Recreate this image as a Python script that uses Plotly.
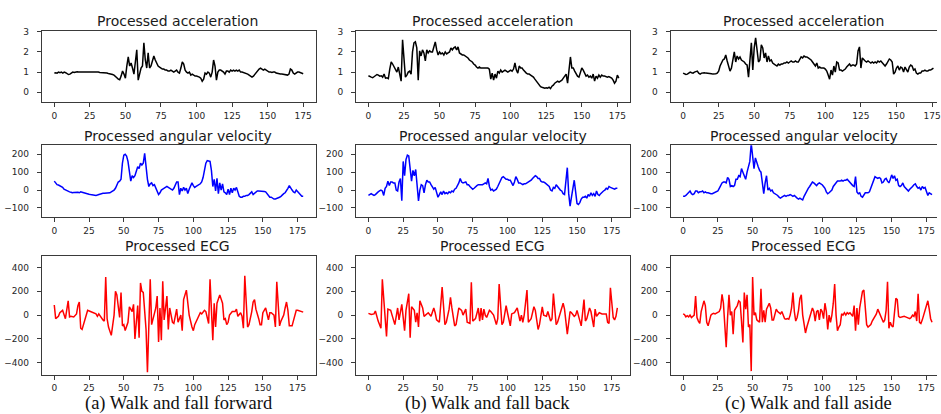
import plotly.graph_objects as go

# ---------------- data ----------------
# (a) walk and fall forward
fwd_acc = [0.95, 0.97, 0.95, 1.0, 0.97, 1.0, 0.95, 1.0, 0.97, 0.92,
           0.88, 0.9, 0.95, 1.0, 0.98, 1.0, 1.02, 1.0, 1.0, 1.02,
           1.03, 1.02, 1.03, 1.03, 1.02, 1.03, 1.03, 1.02, 1.03, 1.02,
           1.0, 1.0, 0.98, 0.98, 0.97, 0.98, 0.96, 0.95, 0.93, 0.92,
           0.9, 0.88, 0.85, 0.8, 0.72, 0.65, 0.62, 0.8, 1.05, 0.9,
           0.7, 1.3, 1.75, 1.3, 1.45, 1.2, 0.9, 1.5, 2.1, 0.6,
           1.0, 1.2, 1.3, 2.45, 1.6, 1.2, 1.95, 1.2, 1.3, 1.55,
           1.8, 1.6, 1.45, 1.3, 1.25, 1.2, 1.15, 1.15, 1.1, 1.1,
           1.05, 1.05, 1.1, 1.05, 1.0, 1.05, 1.1, 1.0, 0.95, 1.2,
           1.5, 1.4, 1.1, 1.0, 0.95, 1.0, 0.85, 0.9, 0.85, 0.8,
           0.8, 0.78, 0.75, 0.7, 0.55, 0.65, 0.95, 0.9, 1.0, 0.95,
           0.75, 1.0, 1.6, 1.3, 0.6, 1.0, 1.1, 1.1, 1.05, 1.0,
           0.9, 1.05, 1.05, 1.0, 1.1, 1.05, 1.1, 1.05, 1.1, 1.05,
           1.1, 1.0, 1.0, 0.98, 0.95, 0.95, 0.9, 0.85, 0.8, 0.75,
           0.8, 0.9, 1.0, 1.1, 1.15, 1.2, 1.15, 1.1, 1.15, 1.1,
           1.05, 1.0, 1.0, 0.98, 1.0, 1.0, 0.95, 0.92, 0.9, 0.9,
           0.9, 0.88, 0.88, 0.87, 0.85, 0.9, 1.15, 1.1, 0.95, 0.9,
           0.95, 1.0, 1.0, 0.97, 0.95, 0.92]

fwd_gyro = [50, 40, 30, 28, 25, 20, 15, 5, 0, -2,
            -5, -10, -12, -15, -13, -12, -15, -12, -15, -10,
            -12, -15, -18, -20, -22, -23, -25, -27, -28, -30,
            -30, -28, -25, -20, -18, -18, -18, -18, -15, -15,
            -15, -10, -5, 0, 10, 30, 45, 50, 60, 150,
            195, 200, 190, 160, 110, 50, 80, 70, 80, 110,
            130, 120, 150, 140, 150, 205, 110, 60, 20, 35,
            40, 25, 30, 10, -10, -25, -15, 0, 5, 10,
            15, 20, 15, 10, 5, 0, 10, 30, 45, 45,
            -25, 10, -5, 15, 0, 10, -20, 5, 20, 40,
            25, 15, 20, 25, 30, 35, 45, 70, 110, 150,
            165, 160, 160, 110, 20, 60, -5, 65, -20, 40,
            0, 35, -10, -15, -25, 5, -25, 10, -15, 10,
            0, 15, -10, -35, -40, -40, -35, -35, -30, -30,
            -25, -20, -10, -25, -20, -10, -5, -5, -5, -5,
            -5, -8, -10, -20, -35, -40, -40, -45, -50, -50,
            -48, -45, -40, -35, -25, -20, -15, -5, 10, 25,
            10, 0, -10, -15, 0, -10, -20, -30, -35, -35]

fwd_ecg_t = [0, 1, 3, 4, 6, 7, 8, 10, 11, 12, 14, 16, 17, 18, 19, 20, 21, 24, 26, 30,
             31, 32, 35, 36, 37, 38, 39, 41, 43, 44, 45, 47, 48, 49, 50, 51, 53, 54, 55, 56,
             57, 58, 60, 61, 62, 63, 64, 66, 67, 68, 69, 70, 72, 73, 74, 75, 76, 77, 78, 79,
             81, 82, 83, 84, 85, 86, 88, 89, 91, 92, 93, 95, 96, 97, 99, 100, 101, 103, 104, 105,
             106, 108, 109, 111, 112, 114, 115, 116, 117, 119, 121, 122, 123, 124, 125, 126, 128, 130, 131, 132,
             134, 135, 136, 137, 139, 140, 142, 143, 144, 145, 147, 148, 149, 150, 152, 153, 154, 155, 156, 158,
             159, 160, 162, 163, 165, 166, 167, 168, 169, 171, 172, 173, 174, 175, 178, 179]
fwd_ecg = [85, -30, -10, 20, 40, 10, -30, 120, -15, -10, -15, 10, 80, 110, -110, -120, -80, 40, 30, 10,
           -10, 10, -40, -50, 320, -30, -100, -170, 0, 200, 170, -20, 190, -90, -80, -130, -60, 70, 50, 30,
           90, -200, 80, -190, 270, 200, 190, -120, -480, -40, 300, -80, 0, 60, 160, -225, 60, -210, 285, -40,
           160, -120, 60, 0, -60, -70, 50, -60, 0, -130, 130, 210, 120, 0, -100, -130, -80, -30, 0, 20,
           10, 40, 30, -70, 300, -210, 100, -100, 100, 170, 100, -40, -30, -80, -60, 0, 30, 30, 50, -10,
           20, -10, -110, 330, -100, -80, 30, 110, 130, 50, -30, -80, -80, 20, 60, 20, -40, 20, 20, 0,
           -100, 280, -90, -50, 0, 60, 110, 40, -90, -90, -50, 0, 40, 40, 25, 25]

# (b) walk and fall back
back_acc = [0.82, 0.8, 0.75, 0.72, 0.78, 0.85, 0.88, 0.85, 0.8, 0.82,
            0.75, 0.9, 0.7, 0.72, 0.68, 1.15, 1.5, 1.4, 1.25, 1.1,
            1.0, 1.25, 0.9, 0.55, 2.6, 1.5, 0.75, 0.85, 1.0, 1.05,
            0.9, 2.0, 2.45, 2.5, 2.2, 0.6, 2.05, 1.8, 2.1, 1.95,
            1.55, 2.1, 1.95, 2.05, 2.0, 2.0, 2.2, 2.5, 2.1, 1.85,
            2.0, 1.9, 1.95, 1.85, 2.0, 1.9, 1.95, 2.0, 2.2, 2.1,
            2.2, 2.25, 2.1, 2.25, 1.95, 1.9, 1.85, 1.85, 1.8, 1.75,
            1.7, 1.6, 1.55, 1.5, 1.4, 1.35, 1.25, 1.2, 1.25, 1.2,
            1.2, 1.2, 1.2, 1.2, 1.2, 1.15, 0.65, 0.95, 0.6, 0.9,
            0.7, 1.05, 0.95, 1.1, 1.0, 1.05, 1.1, 1.05, 1.0, 1.05,
            1.1, 1.05, 1.15, 1.45, 1.1, 0.95, 1.3, 1.2, 1.2, 1.1,
            1.0, 0.95, 0.9, 0.9, 0.85, 0.8, 0.75, 0.65, 0.55, 0.45,
            0.35, 0.28, 0.25, 0.22, 0.2, 0.22, 0.2, 0.25, 0.18, 0.3,
            0.35, 0.45, 0.5, 0.55, 0.5, 0.55, 0.6, 0.7, 0.8, 0.9,
            0.45, 1.0, 1.75, 1.2, 1.2, 1.05, 0.9, 0.8, 0.75, 1.0,
            1.2, 1.1, 0.9, 0.8, 0.85, 0.75, 0.8, 0.7, 0.9, 0.55,
            0.8, 0.7, 0.85, 0.75, 0.85, 0.8, 0.8, 0.78, 0.75, 0.78,
            0.75, 0.7, 0.6, 0.45, 0.55, 0.85, 0.7]

back_gyro = [-30, -25, -20, -25, -30, -25, -15, -10, -5, 0,
             -5, -30, 10, 20, 50, 25, 45, 45, 40, 40,
             0, -5, 45, 65, -60, 160, 80, 170, 195, 190,
             120, 50, 110, 80, 115, 10, -60, 0, 30, 25,
             -15, 30, 55, 45, 45, 30, 20, 5, 15, -20,
             -40, -25, -10, -25, -5, -20, -15, -20, -10, -15,
             -5, -10, 5, 10, 25, 40, 65, 45, 40, 45,
             45, 30, 30, 20, 15, 5, 10, 20, 25, 30,
             30, 30, 30, 35, 40, 35, 65, 20, 0, 5,
             -5, 0, 5, 20, 35, 50, 70, 75, 65, 60,
             60, 55, 55, 40, 25, 45, 75, 60, 40, 40,
             35, 30, 35, 35, 40, 45, 50, 55, 65, 70,
             80, 75, 65, 65, 50, 45, 45, 40, 35, 25,
             20, 0, -5, 15, 10, 30, 20, 5, 0, -5,
             -20, -25, 40, 125, -20, -90, -40, 20, 55, -10,
             -75, -80, -70, -50, -40, -40, -35, -45, -25, -35,
             -15, -30, -20, -35, -5, -25, -30, -20, -10, -5,
             0, 10, 5, 20, 15, 10, 10, 5, 10, 10]

back_ecg_t = [0, 2, 4, 5, 7, 9, 10, 13, 14, 16, 17, 19, 21, 22, 24, 26, 27, 29, 30, 31,
              33, 34, 35, 36, 37, 39, 40, 41, 43, 45, 47, 48, 49, 51, 53, 55, 56, 58, 59, 60,
              62, 63, 65, 67, 68, 70, 71, 73, 74, 75, 77, 79, 80, 81, 82, 83, 84, 85, 87, 88,
              90, 92, 93, 94, 96, 97, 99, 100, 102, 103, 105, 107, 109, 110, 111, 112, 114, 115, 117, 119,
              120, 122, 123, 125, 126, 128, 129, 131, 132, 133, 135, 136, 138, 140, 141, 143, 145, 146, 148, 149,
              150, 152, 153, 155, 156, 157, 159, 160, 162, 163, 164, 166, 168, 171, 172, 173, 174, 176, 177, 178,
              179]
back_ecg = [15, 5, 10, 35, -50, -110, 300, -180, 50, 40, 0, -80, 60, -40, 90, -130, 40, 180, -190, 70,
            40, -60, 20, -100, 120, 60, -10, 0, 20, -10, 60, 20, -40, -60, 235, -80, -60, 50, 150, 60,
            -90, -80, 60, 40, 0, 50, -60, -70, 275, -50, -30, 60, -50, 60, -40, 50, 0, -20, 40, 30,
            0, -80, -30, 260, -80, -60, 80, 20, -90, 10, 20, 60, -50, 0, -60, 0, 210, -60, -30, 70,
            40, -120, -80, 70, 0, -10, 30, -50, -30, 180, -80, -60, 30, 100, 50, -160, 30, 20, -10, 0,
            40, -60, -90, 130, -50, -30, 60, 30, -100, 50, -10, 20, 10, 10, -60, -70, 230, -20, -40, -10,
            60]

# (c) walk and fall aside
side_acc = [0.95, 0.9, 0.88, 0.9, 0.95, 1.0, 0.97, 0.95, 1.0, 1.02,
            1.05, 0.95, 0.9, 0.95, 0.97, 0.97, 0.95, 0.95, 0.93, 0.92,
            0.92, 0.9, 0.9, 0.92, 0.95, 1.05, 1.3, 1.5, 1.6, 1.65,
            1.85, 1.55, 1.3, 1.05, 1.2, 1.6, 2.0, 1.5, 1.8, 1.65,
            1.75, 1.6, 1.55, 1.5, 1.4, 1.35, 0.75, 1.7, 2.45, 1.1,
            2.2, 2.7, 2.2, 1.5, 1.6, 2.35, 2.2, 1.7, 1.95, 1.5,
            1.8, 1.55, 1.6, 1.45, 1.4, 1.35, 1.3, 1.4, 1.35, 1.4,
            1.4, 1.45, 1.45, 1.5, 1.45, 1.5, 1.55, 1.5, 1.5, 1.55,
            1.5, 1.5, 1.6, 1.75, 1.7, 1.8, 1.75, 1.75, 1.7, 1.65,
            1.6, 1.5, 1.4, 1.3, 1.45, 1.2, 1.25, 1.2, 1.2, 1.2,
            1.15, 1.05, 0.85, 0.65, 1.1, 0.85, 1.3, 1.0, 1.5, 1.45,
            1.1, 1.1, 1.05, 1.1, 1.15, 1.25, 1.35, 1.4, 1.3, 1.35,
            1.35, 1.3, 1.4, 2.05, 2.25, 1.2, 1.7, 1.6, 1.55, 1.5,
            1.55, 1.5, 1.45, 1.5, 1.45, 1.5, 1.45, 1.55, 1.5, 1.55,
            1.45, 1.35, 1.3, 1.4, 1.55, 1.65, 1.6, 1.5, 0.9, 1.0,
            1.2, 1.3, 1.1, 1.25, 1.2, 1.0, 1.25, 1.1, 1.0, 1.25,
            1.35, 1.3, 1.1, 1.15, 0.95, 0.9, 0.95, 0.95, 1.05, 1.05,
            1.1, 1.05, 1.05, 1.1, 1.1, 1.15, 1.2]

side_gyro = [-35, -35, -30, -20, -10, -5, -20, -25, -20, -5,
             -5, -15, -10, -10, -5, -15, -10, -15, -15, -20,
             -20, -20, -15, -15, -10, -5, 10, 25, 40, 45,
             45, 40, 70, 60, 20, 25, 20, 25, 60, 60,
             80, 75, 120, 100, 80, 60, 100, 125, 160, 260,
             180, 120, 180, 150, 130, 110, 100, 40, -20, 40,
             80, 0, 10, -5, 0, -15, -20, -25, -30, -40,
             -45, -40, -35, -30, -35, -30, -30, -25, -30, -35,
             -30, -40, -45, -50, -45, -50, -55, -35, -20, 0,
             10, 20, 35, 45, 40, 30, 25, 35, 40, 35,
             30, 20, 10, -10, -20, -15, -10, 0, 20, 30,
             45, 50, 50, 50, 55, 50, 55, 55, 60, 50,
             40, 35, 25, 20, 75, -10, -20, -15, -35, -40,
             -30, -15, -15, -15, -10, 10, 40, 60, 75, 70,
             65, 70, 65, 40, 45, 60, 65, 50, 40, 60,
             85, 65, 80, 55, 60, 25, 20, 25, 40, 20,
             10, 0, -5, 5, 10, 20, 30, 35, 20, 10,
             15, 0, 20, 10, 15, -10, -30, -15, -20, -25]

side_ecg = [10, 5, -15, -5, -15, 0, -20, -5, 0, 160,
            -20, -50, -70, 30, 80, 120, 80, -60, -90, -50,
            0, 10, 15, 10, 15, 20, 30, 60, 175, 100,
            -100, -270, -20, 170, 0, 30, -160, 40, 60, 80,
            120, 110, -50, -230, 190, 50, 170, -100, -80, -470,
            320, 0, 20, -40, -50, -60, 220, -60, 40, -60,
            50, 80, 100, 60, -40, -40, 10, 50, 30, 20,
            10, 30, 0, -30, -35, -30, -35, 0, 60, 190,
            30, -50, -20, 40, 140, 170, 0, -100, -150, -100,
            -60, -20, 20, 60, 30, -50, 30, 40, -40, 50,
            30, -30, 100, 30, -120, 0, -60, 0, 100, 260,
            0, -130, -100, -80, 10, 0, 20, 0, 20, 10,
            20, 0, -10, 80, -130, 60, -80, 60, 120, 200,
            210, 80, -80, -100, -90, -80, -50, -30, -10, 10,
            50, 20, 0, -30, -60, -40, 40, 280, -110, -60,
            -90, -100, 40, 140, 130, -10, -20, -15, -10, -10,
            -15, -20, -20, -30, -20, 0, -10, 30, -50, 180,
            -60, -70, -40, 0, 60, 100, 120, 50, -30, -60]

row_titles = ["Processed acceleration", "Processed angular velocity", "Processed ECG"]
captions = ["(a) Walk and fall forward", "(b) Walk and fall back", "(c) Walk and fall aside"]
x_ticks = [0, 25, 50, 75, 100, 125, 150, 175]
y_ticks = [[0, 1, 2, 3], [-100, 0, 100, 200], [-400, -200, 0, 200, 400]]
y_ranges = [[-0.5, 3.05], [-150, 250], [-500, 500]]
line_colors = ["#000000", "#0000ff", "#ff0000"]

# ---------------- layout geometry (pixels) ----------------
W, H = 941, 414
col_px = [(42.0, 317.0), (357.5, 633.0), (673.5, 941.0)]
row_px = [(27.0, 99.3), (142.7, 215.0), (254.0, 374.3)]
full_w = col_px[0][1] - col_px[0][0]
last_sample = [175, 179, 179]   # x extent used for the 5% side margins per row


def idx_series(vals):
    return list(range(len(vals))), vals


grid = [
    [idx_series(fwd_acc), idx_series(back_acc), idx_series(side_acc)],
    [idx_series(fwd_gyro), idx_series(back_gyro), idx_series(side_gyro)],
    [(fwd_ecg_t, fwd_ecg), (back_ecg_t, back_ecg), idx_series(side_ecg)],
]

fig = go.Figure()
layout = {}
axis_font = dict(family="DejaVu Sans", size=9, color="#262626")
spine = "#3a3a3a"

for r in range(3):
    for c in range(3):
        n = r * 3 + c + 1
        xs, ys = grid[r][c]
        fig.add_trace(go.Scatter(
            x=xs, y=ys, mode="lines",
            line=dict(color=line_colors[r], width=1.5),
            xaxis=f"x{n}", yaxis=f"y{n}",
            showlegend=False, hoverinfo="skip"))

        # matplotlib-style 5% margins; the right-hand column runs off the page edge
        lo, hi = -0.05 * last_sample[r], 1.05 * last_sample[r]
        x0p, x1p = col_px[c]
        span = (hi - lo) * (x1p - x0p) / full_w
        xr = [lo, lo + span]

        y0p, y1p = row_px[r]
        xa = dict(domain=[x0p / W, x1p / W], range=xr, anchor=f"y{n}",
                  tickmode="array", tickvals=x_ticks, ticks="outside",
                  ticklen=4, tickwidth=1, tickcolor=spine,
                  showline=True, linecolor=spine, linewidth=1, mirror=True,
                  showgrid=False, zeroline=False, tickfont=axis_font,
                  ticklabelstandoff=1, ticklabeloverflow="allow")
        ya = dict(domain=[1 - y1p / H, 1 - y0p / H], range=y_ranges[r],
                  anchor=f"x{n}", tickmode="array", tickvals=y_ticks[r],
                  ticks="outside", ticklen=4, tickwidth=1, tickcolor=spine,
                  showline=True, linecolor=spine, linewidth=1,
                  mirror=(c < 2), showgrid=False, zeroline=False,
                  tickfont=axis_font, ticklabelstandoff=6)
        layout[f"xaxis{n}"] = xa
        layout[f"yaxis{n}"] = ya

annotations = []
title_x = [178.5, 495.0, 807.0]
title_y = [17.5, 133.0, 244.0]
for r in range(3):
    for c in range(3):
        annotations.append(dict(
            text=row_titles[r], x=title_x[c] / W, y=1 - title_y[r] / H,
            xref="paper", yref="paper", xanchor="center", yanchor="middle",
            showarrow=False,
            font=dict(family="DejaVu Sans", size=14, color="#1a1a1a")))
cap_x = [180.0, 489.5, 811.5]
for c in range(3):
    annotations.append(dict(
        text=captions[c], x=cap_x[c] / W, y=1 - 403 / H,
        xref="paper", yref="paper", xanchor="center", yanchor="middle",
        showarrow=False,
        font=dict(family="Liberation Serif", size=18.5, color="#111111")))

fig.update_layout(
    width=W, height=H, margin=dict(l=0, r=0, t=0, b=0),
    paper_bgcolor="white", plot_bgcolor="white",
    annotations=annotations, **layout)

fig.write_html("out.html")
